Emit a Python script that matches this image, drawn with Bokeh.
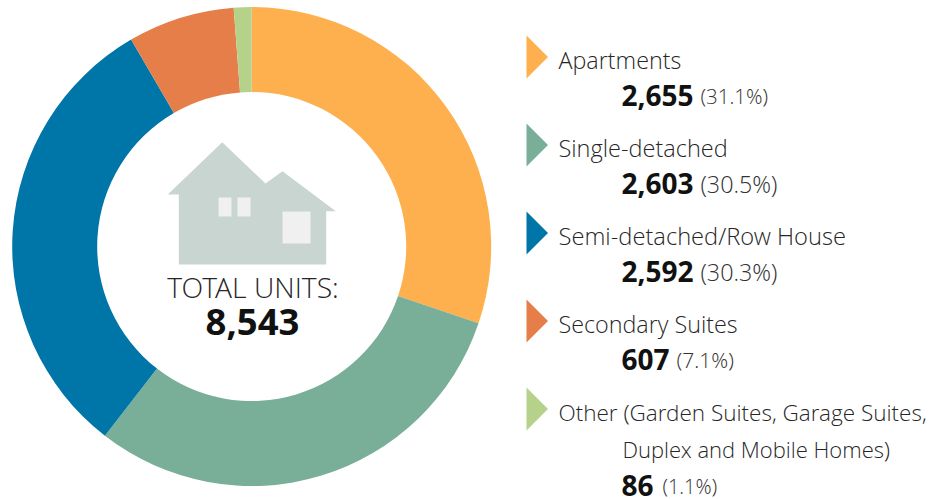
from math import pi
from bokeh.core.properties import value
from bokeh.embed import file_html
from bokeh.models import Range1d
from bokeh.plotting import figure
from bokeh.resources import INLINE

categories = ["Apartments", "Single-detached", "Semi-detached/Row House", "Secondary Suites", "Other (Garden Suites, Garage Suites,"]
units = ["2,655", "2,603", "2,592", "607", "86"]
percents = ["(31.1%)", "(30.5%)", "(30.3%)", "(7.1%)", "(1.1%)"]
drawn_shares = [30.2, 30.3, 31.1, 7.2, 1.2]
colors = ["#FDB04D", "#79AE99", "#0076A8", "#E67E4A", "#B6D28A"]
total_label = "TOTAL UNITS:"
total_value = "8,543"

W, H = 936, 499
LIGHT = value("Open Sans Light")
FONT = value("Open Sans")
INK = "#262626"

p = figure(width=W, height=H, output_backend="svg", toolbar_location=None,
           x_range=Range1d(0, W), y_range=Range1d(0, H), min_border=0,
           outline_line_color=None, background_fill_color="white", border_fill_color="white")
p.axis.visible = False
p.grid.visible = False

def Y(y):
    return H - y + 1

# donut, clockwise from twelve o'clock
tot = sum(drawn_shares)
run = 0.0
for s, c in zip(drawn_shares, colors):
    a0 = pi / 2 - 2 * pi * run / tot
    run += s
    a1 = pi / 2 - 2 * pi * run / tot
    p.annular_wedge(x=251.2, y=Y(247), inner_radius=154.5, outer_radius=239.5, start_angle=a1, end_angle=a0,
                    fill_color=c, line_color=None)

# house icon
hx = [167.3, 221.7, 265, 282, 335.3, 325.7, 325.7, 178.3, 178.3]
hy = [195, 142.7, 184, 171.7, 211.7, 211.7, 265, 265, 195]
p.patch(hx, [Y(v) for v in hy], fill_color="#C8D5D1", line_color=None)
for x0, x1, y0, y1 in [(218, 231, 198, 217), (237, 250, 198, 217), (282, 310, 212, 244)]:
    p.quad(left=x0, right=x1, top=Y(y0), bottom=Y(y1), fill_color="#F0F0F0", line_color=None)

def txt(x, y, s, size, bold=False, align="left", color=INK, lift=8.5):
    p.text(x=[x], y=[Y(y - lift)], text=[s], text_font=FONT if bold else LIGHT, text_font_size=f"{size}px",
           text_font_style="bold" if bold else "normal", text_align=align,
           text_baseline="alphabetic", text_color=color)

txt(252.5, 296.7, total_label, 28.3, align="center", lift=9)
txt(252, 332.7, total_value, 36.5, bold=True, align="center", color="#111111", lift=10)

# legend
tops = [36, 124, 212, 300, 388]
label_y = [69.3, 157.3, 245.3, 333.3, 421]
value_y = [106.7, 194.7, 282.7, 370.7, 495]
value_lift = [11, 11, 11, 11, 9]
pct_lift = [10, 10, 10, 10, 8]
pct_x = [700, 700, 700, 676, 662]
label_px = [23.3, 23.5, 23.7, 23.3, 22.5]
pct_px = [20.5, 23.3, 23.3, 21, 20]
for i, c in enumerate(colors):
    t = tops[i]
    p.patch([526, 547.5, 526], [Y(t), Y(t + 21.5), Y(t + 43)], fill_color=c, line_color=None)
    txt(558, label_y[i], categories[i], label_px[i])
    txt(621, value_y[i], units[i], 28, bold=True, color="#111111", lift=value_lift[i])
    txt(pct_x[i], value_y[i], percents[i], pct_px[i], color="#333333", lift=pct_lift[i])
txt(622, 458, "Duplex and Mobile Homes)", 22)

open("out.html", "w").write(file_html(p, INLINE))
